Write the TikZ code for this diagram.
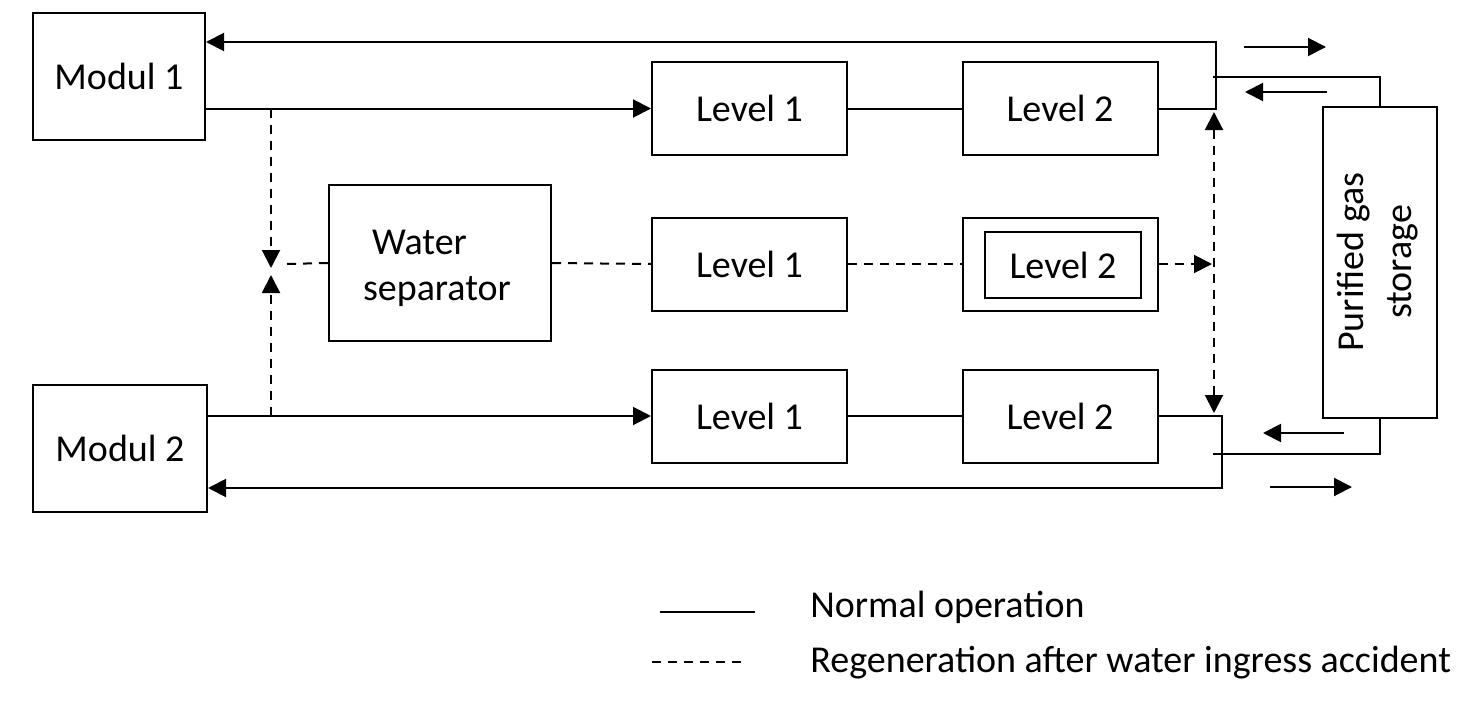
\documentclass[tikz,border=0pt]{standalone}
\usepackage{fontspec}
\setmainfont{Carlito}
\usetikzlibrary{arrows.meta}
\begin{document}
\begin{tikzpicture}[x=0.5pt,y=-0.5pt,
  box/.style={draw,line width=1pt,inner sep=0pt,font=\fontsize{19}{22}\selectfont},
  lvl/.style={box,minimum width=97.5pt,minimum height=46.5pt},
  conn/.style={line width=1pt},
  dsh/.style={line width=1pt,dash pattern=on 4.5pt off 3.5pt},
  >={Triangle[length=9pt,width=9pt]},
  lbl/.style={anchor=west,inner sep=0pt,font=\fontsize{19}{22}\selectfont}]
\useasboundingbox (0,0) rectangle (1484,712);
% boxes
\node[box,minimum width=86pt,minimum height=63.5pt] (M1) at (119,76.5) {Modul 1};
\node[box,minimum width=87pt,minimum height=63.5pt] (M2) at (120,448.5) {Modul 2};
\node[lvl] (L1a) at (749.5,108.5) {Level 1};
\node[lvl] (L2a) at (1060,108.5) {Level 2};
\node[lvl] (L1b) at (749.5,264) {Level 1};
\node[lvl] (L2b) at (1060,264) {};
\node[box,minimum width=78pt,minimum height=33pt] (L2bi) at (1063,265) {Level 2};
\node[lvl] (L1c) at (749.5,416) {Level 1};
\node[lvl] (L2c) at (1060,416) {Level 2};
\node[box,minimum width=111pt,minimum height=78pt] (WS) at (440,263) {};
\node[font=\fontsize{19}{22}\selectfont,align=left,inner sep=0pt] (WSt) at (437,268) {\hspace*{4.5pt}Water\\[1pt]separator};
\node[box,minimum width=57pt,minimum height=155.5pt] (S) at (1380,262.5) {};
\node[font=\fontsize{19}{22}\selectfont,rotate=90,align=center,inner sep=0pt] (St) at (1378,262) {Purified gas\\[2pt]storage};
% coordinates
\coordinate (tr) at (1216,42);
\coordinate (sj) at (1213,77);
\coordinate (br) at (1222,488);
\coordinate (sb) at (1213,454);
\coordinate (vt) at (1214,112);
\coordinate (vb) at (1214,413);
\coordinate (vm) at (1212,264);
\coordinate (lt) at (271,108.5);
\coordinate (ltt) at (271,268);
\coordinate (lb) at (271,416);
\coordinate (lbt) at (271,275);
\coordinate (lh) at (285,264);
\coordinate (a1s) at (1244,47); \coordinate (a1e) at (1326,47);
\coordinate (a2s) at (1327,92); \coordinate (a2e) at (1245,92);
\coordinate (a3s) at (1344,433); \coordinate (a3e) at (1263,433);
\coordinate (a4s) at (1270,487); \coordinate (a4e) at (1352,487);
% normal connectors
\draw[conn,->] (M1.east |- L1a.west) -- (L1a.west);
\draw[conn] (L1a) -- (L2a);
\draw[conn,->] (L2a.east) -| (tr) -- (M1.east |- tr);
\draw[conn] (sj) -| (S.north);
\draw[conn,->] (a1s) -- (a1e);
\draw[conn,->] (a2s) -- (a2e);
\draw[conn,->] (M2.east |- L1c.west) -- (L1c.west);
\draw[conn] (L1c) -- (L2c);
\draw[conn,->] (L2c.east) -| (br) -- (M2.east |- br);
\draw[conn] (S.south) |- (sb);
\draw[conn,->] (a3s) -- (a3e);
\draw[conn,->] (a4s) -- (a4e);
% dashed connectors
\draw[dsh,<->] (vt) -- (vb);
\draw[dsh,->] (L2b.east) -- (vm);
\draw[dsh] (L1b.east) -- (L2b.west);
\draw[dsh] (WS.east) -- (L1b.west);
\draw[dsh] (WS.west) -- (lh);
\draw[dsh,->] (lt) -- (ltt);
\draw[dsh,->] (lb) -- (lbt);
% legend
\coordinate (n1) at (660,612); \coordinate (n2) at (755,612);
\coordinate (d1) at (652,662); \coordinate (d2) at (747,662);
\draw[conn] (n1) -- (n2);
\draw[dsh] (d1) -- (d2);
\node[lbl] (tn) at (810,607) {Normal operation};
\node[lbl] (td) at (810,663) {Regeneration after water ingress accident};
\end{tikzpicture}
\end{document}
